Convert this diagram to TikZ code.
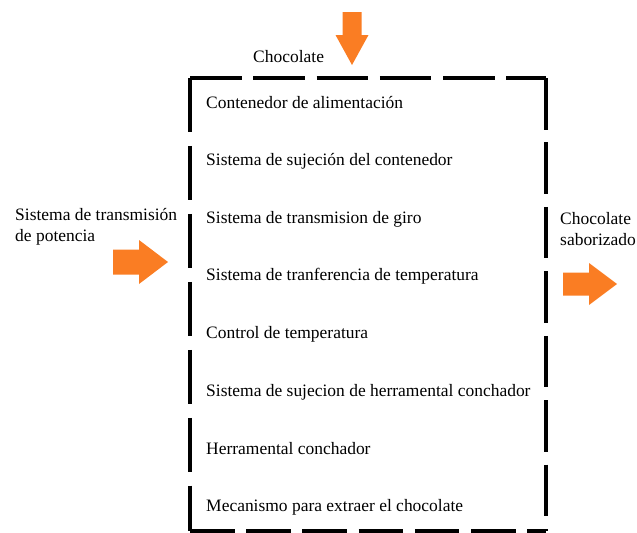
\documentclass[tikz,border=0pt]{standalone}
\usepackage{fontspec}
\setmainfont{Liberation Serif}
\usepackage{tikz}
\usetikzlibrary{calc}
\definecolor{naranja}{RGB}{250,125,35}
\tikzset{
    texto/.style={anchor=west,inner sep=0pt,font=\fontsize{14.9}{17.5}\selectfont},
    caja/.style={line width=3.3pt,dash pattern=on 44pt off 10pt},
    flechasty/.style={fill=naranja},
  }
% flecha gruesa: #1 inicio, #2 angulo, #3 largo, #4 medio ancho del cuerpo, #5 medio ancho de la punta, #6 largo de la punta
\newcommand{\flecha}[6]{%
  \begin{scope}[shift={#1},rotate=#2]
    \fill[flechasty] (0,-#4) -- ({#3-#6},-#4) -- ({#3-#6},-#5) -- (#3,0)
      -- ({#3-#6},#5) -- ({#3-#6},#4) -- (0,#4) -- cycle;
  \end{scope}}

\begin{document}
\begin{tikzpicture}[x=0.03cm,y=-0.03cm]
    \useasboundingbox (0,0) rectangle (637,533);
    %caja punteada
    \coordinate (NO) at (190,78);
    \coordinate (SE) at (546,531);
    \draw[caja] (NO) -- (NO-|SE);
    \draw[caja,dash pattern=on 44pt off 11pt] (NO-|SE) -- (SE);
    \draw[caja,dash pattern=on 46pt off 12pt] (NO) -- (NO|-SE);
    \draw[caja,dash pattern=on 38pt off 10pt] (NO|-SE) -- (SE);

    %componentes
    \node[texto] (alim) at (206,103) {Contenedor de alimentación};
    \node[texto] (sujcont) at (206,161) {Sistema de sujeción del contenedor};
    \node[texto] (giro) at (206,219) {Sistema de transmision de giro};
    \node[texto] (temp) at (206,276) {Sistema de tranferencia de temperatura};
    \node[texto] (control) at (206,334) {Control de temperatura};
    \node[texto] (sujherr) at (206,392) {Sistema de sujecion de herramental conchador};
    \node[texto] (herr) at (206,449) {Herramental conchador};
    \node[texto] (extraer) at (206,507) {Mecanismo para extraer el chocolate};

    %entradas y salidas
    \node[texto] (choco) at (253,57) {Chocolate};
    \node[texto,align=left] (potencia) at (15,227) {Sistema de transmisión\\de potencia};
    \node[texto,align=left] (saborizado) at (560,229) {Chocolate\\saborizado};

    %flechas
    \flecha{(352,12)}{-90}{53}{9.5}{16.5}{30}
    \flecha{(113,262)}{0}{55}{12.5}{22}{29}
    \flecha{(563,284)}{0}{54}{11.5}{21}{28}
\end{tikzpicture}
\end{document}
